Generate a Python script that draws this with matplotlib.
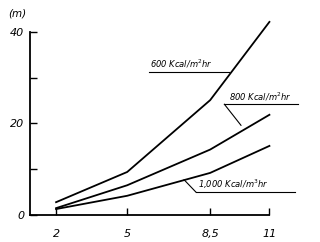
import numpy as np
import matplotlib.pyplot as plt

x = [2, 5, 8.5, 11]
y_600 = [2.8, 9.4, 25.1, 42.2]
y_800 = [1.5, 6.5, 14.3, 21.9]
y_1000 = [1.3, 4.2, 9.2, 15.1]

x_ticks = [2, 5, 8.5, 11]
x_labels = ['2', '5', '8,5', '11']
y_ticks = [0, 10, 20, 30, 40]
y_labels = ['0', '', '20', '', '40']

fig = plt.figure(figsize=(3.2, 2.42), dpi=100)
ax = fig.add_axes([30 / 320, 27 / 242, 270 / 320, 205 / 242])

for ys in (y_600, y_800, y_1000):
    ax.plot(x, ys, color='black', lw=1.3, clip_on=False)

ax.set_xlim(0.9, 12.29)
ax.set_ylim(0, 44.8)
for s in ('top', 'right'):
    ax.spines[s].set_visible(False)
ax.spines['left'].set_bounds(0, 40)
ax.spines['bottom'].set_bounds(0.9, 11)
ax.spines['left'].set_linewidth(1.3)
ax.spines['bottom'].set_linewidth(1.3)

ax.set_xticks(x_ticks)
ax.set_xticklabels(x_labels, fontstyle='italic', fontsize=8)
ax.set_yticks(y_ticks)
ax.set_yticklabels(y_labels, fontstyle='italic', fontsize=8)
ax.tick_params(axis='x', direction='in', length=5, width=1, pad=10)
ax.tick_params(axis='y', direction='in', length=5, width=1, pad=4)

fig.text(8 / 320, 1 - 14 / 242, '(m)', fontsize=7.5, fontstyle='italic', ha='left', va='center')

# labels with underline leaders
kw = dict(fontsize=6, fontstyle='italic', ha='left', va='bottom')
ax.text(5.95, 31.6, '600 Kcal/m$^2$hr', **kw)
ax.plot([5.9, 9.3], [31.3, 31.3], color='black', lw=0.8)

ax.text(9.3, 24.5, '800 Kcal/m$^2$hr', **kw)
ax.plot([9.1, 12.2], [24.2, 24.2], color='black', lw=0.8, clip_on=False)
ax.plot([9.1, 9.8], [24.2, 19.6], color='black', lw=0.8)

ax.text(8.0, 5.3, '1,000 Kcal/m$^3$hr', **kw)
ax.plot([7.9, 12.1], [5.0, 5.0], color='black', lw=0.8, clip_on=False)
ax.plot([7.9, 7.4], [5.0, 7.7], color='black', lw=0.8)

fig.savefig('out.png', dpi=100)
